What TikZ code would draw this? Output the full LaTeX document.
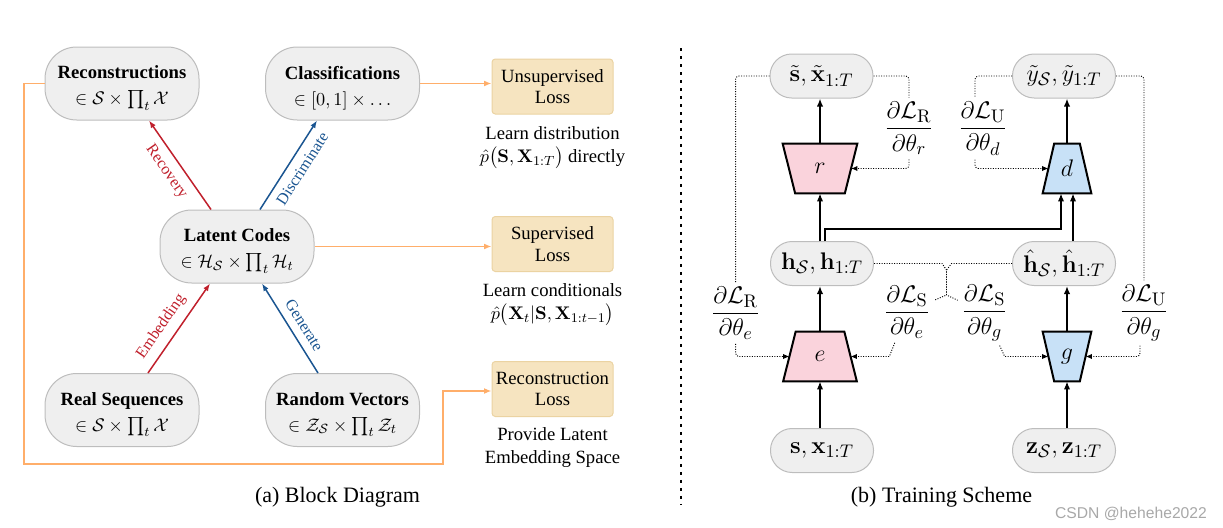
\documentclass[tikz,border=0pt]{standalone}
\usepackage{amsmath}
\usepackage[no-math]{fontspec}
\setmainfont{Liberation Serif}
\newfontfamily\wmfont{Liberation Sans}
\usetikzlibrary{arrows.meta,calc,backgrounds}
\definecolor{nodegray}{HTML}{EFEFEF}
\definecolor{nodeborder}{HTML}{BDBDBD}
\definecolor{lossfill}{HTML}{F6E4C0}
\definecolor{lossborder}{HTML}{EBD3A2}
\definecolor{redarr}{HTML}{C0202C}
\definecolor{bluearr}{HTML}{1A5591}
\definecolor{orangeline}{HTML}{FFAE6A}
\definecolor{pinkfill}{HTML}{FAD3DC}
\definecolor{bluefill}{HTML}{C8E1F7}
\definecolor{wmgray}{HTML}{A8A8A8}
\newcommand{\topstrut}{\rule{0pt}{13pt}}
\begin{document}
\begin{tikzpicture}[x=0.6pt,y=-0.6pt,
  lpill/.style={draw=nodeborder,fill=nodegray,line width=0.6pt,rounded corners=19pt,minimum width=92.4pt,minimum height=43.8pt,inner sep=0pt,align=center,font=\fontsize{11.2}{15.6}\selectfont},
  rpill/.style={draw=nodeborder,fill=nodegray,line width=0.6pt,rounded corners=13pt,minimum width=61.8pt,minimum height=26.4pt,inner sep=0pt,font=\fontsize{15}{18}\selectfont},
  lossbox/.style={draw=lossborder,fill=lossfill,line width=0.6pt,rounded corners=2pt,minimum width=72.6pt,minimum height=33pt,inner sep=0pt,align=center,font=\fontsize{11.2}{12.8}\selectfont},
  note/.style={align=center,inner sep=0pt,font=\fontsize{11.2}{14}\selectfont},
  trapbox/.style={inner sep=0pt,minimum height=29.4pt,font=\fontsize{15}{18}\selectfont},
  trapline/.style={draw=black,line width=1.2pt},
  fraclab/.style={inner sep=2.4pt,font=\fontsize{15}{18}\selectfont},
  redarrow/.style={draw=redarr,line width=0.9pt,-{Latex[length=4.5pt,width=3.4pt]}},
  bluearrow/.style={draw=bluearr,line width=0.9pt,-{Latex[length=4.5pt,width=3.4pt]}},
  arrlab/.style={sloped,font=\fontsize{9.6}{11}\selectfont,inner sep=1.5pt},
  orangearrow/.style={draw=orangeline,line width=1.1pt,-{Latex[length=4.5pt,width=3.6pt]}},
  solidarr/.style={draw=black,line width=1.2pt,-{Latex[length=4.8pt,width=3.8pt]}},
  dotline/.style={draw=black,line width=0.55pt,dash pattern=on 0.6pt off 0.9pt,rounded corners=2pt},
  dotarr/.style={dotline,-{Latex[length=3.8pt,width=3.2pt]}},
  caption/.style={inner sep=0pt,font=\fontsize{13.2}{15}\selectfont}
]
\useasboundingbox (0,0) rectangle (1223,528);

% ---------- left panel ----------
\node[lpill] (rec) at (122,83.5) {\topstrut\textbf{Reconstructions}\\$\in\mathcal S\times\prod_t\mathcal X$};
\node[lpill] (cls) at (342.5,83.5) {\topstrut\textbf{Classifications}\\$\in[0,1]\times\ldots$};
\node[lpill] (lat) at (237,246.5) {\topstrut\textbf{Latent Codes}\\$\in\mathcal H_{\mathcal S}\times\prod_t\mathcal H_t$};
\node[lpill] (real) at (122,410) {\topstrut\textbf{Real Sequences}\\$\in\mathcal S\times\prod_t\mathcal X$};
\node[lpill] (rand) at (342.5,410) {\topstrut\textbf{Random Vectors}\\$\in\mathcal Z_{\mathcal S}\times\prod_t\mathcal Z_t$};

\draw[redarrow] ($(lat.north)+(-26,0)$) -- node[arrlab,below=3pt,pos=0.52,text=redarr] {Recovery} ($(rec.south)+(27,0)$);
\draw[bluearrow] ($(lat.north)+(23,0)$) -- node[arrlab,below=3pt,pos=0.54,text=bluearr] {Discriminate} ($(cls.south)+(-25.5,0)$);
\draw[redarrow] ($(real.north)+(26,0)$) -- node[arrlab,above=3pt,pos=0.42,text=redarr] {Embedding} ($(lat.south)+(-27,0)$);
\draw[bluearrow] ($(rand.north)+(-24.5,0)$) -- node[arrlab,above=3pt,pos=0.45,text=bluearr] {Generate} ($(lat.south)+(25,0)$);

\node[lossbox] (uns) at (552.5,86.5) {Unsupervised\\Loss};
\node[lossbox] (sup) at (552.5,244) {Supervised\\Loss};
\node[lossbox] (recl) at (552.5,389) {Reconstruction\\Loss};

\node[note] (n1) at (552.5,147.5) {Learn distribution\\$\hat p\bigl(\mathbf S,\mathbf X_{1:T}\bigr)$ directly};
\node[note] (n2) at (552.5,304.5) {Learn conditionals\\$\hat p\bigl(\mathbf X_t|\mathbf S,\mathbf X_{1:t-1}\bigr)$};
\node[note] (n3) at (552.5,447.5) {Provide Latent\\Embedding Space};

\coordinate (oa) at (24,83.5);
\coordinate (ob) at (24,464);
\coordinate (oc) at (443,464);
\coordinate (od) at (443,391);
\draw[orangearrow] (cls.east) -- (cls.east -| uns.west);
\draw[orangearrow] (lat.east) -- (lat.east -| sup.west);
\draw[orangearrow] (rec.west) -- (oa) -- (ob) -- (oc) -- (od) -- (od -| recl.west);

\node[caption] (capa) at (337.5,497) {(a) Block Diagram};

% ---------- divider ----------
\draw[line width=1.2pt,dash pattern=on 1.8pt off 3pt] (681,48) -- (681,505);

% ---------- right panel ----------
\node[rpill] (st) at (821.5,76) {$\tilde{\mathbf s},\tilde{\mathbf x}_{1:T}$};
\node[rpill] (yt) at (1064,76) {$\tilde y_{\mathcal S},\tilde y_{1:T}$};
\node[rpill] (h) at (822,263.5) {$\mathbf h_{\mathcal S},\mathbf h_{1:T}$};
\node[rpill] (hh) at (1064,263.5) {$\hat{\mathbf h}_{\mathcal S},\hat{\mathbf h}_{1:T}$};
\node[rpill] (sx) at (822,450.5) {$\mathbf s,\mathbf x_{1:T}$};
\node[rpill] (z) at (1064,450.5) {$\mathbf z_{\mathcal S},\mathbf z_{1:T}$};

\node[trapbox,minimum width=44.4pt] (r) at (820,168.5) {$r$};
\node[trapbox,minimum width=28.8pt] (d) at (1067,168.5) {$d$};
\node[trapbox,minimum width=43.8pt] (e) at (820,356.5) {$e$};
\node[trapbox,minimum width=28.8pt] (g) at (1067,356.5) {$g$};
\begin{pgfonlayer}{background}
\filldraw[trapline,fill=pinkfill] (r.north west) -- (r.north east) -- ($(r.south east)+(-12.5,0)$) -- ($(r.south west)+(12.5,0)$) -- cycle;
\filldraw[trapline,fill=bluefill] ($(d.north west)+(11.5,0)$) -- ($(d.north east)+(-11.5,0)$) -- (d.south east) -- (d.south west) -- cycle;
\filldraw[trapline,fill=pinkfill] ($(e.north west)+(12.5,0)$) -- ($(e.north east)+(-12.5,0)$) -- (e.south east) -- (e.south west) -- cycle;
\filldraw[trapline,fill=bluefill] (g.north west) -- (g.north east) -- ($(g.south east)+(-11.5,0)$) -- ($(g.south west)+(11.5,0)$) -- cycle;
\end{pgfonlayer}

% solid arrows
\draw[solidarr] (e.south |- sx.north) -- (e.south);
\draw[solidarr] (e.north) -- (e.north |- h.south);
\draw[solidarr] (r.south |- h.north) -- (r.south);
\draw[solidarr] (r.north) -- (r.north |- st.south);
\draw[solidarr] (d.north) -- (d.north |- yt.south);
\draw[solidarr] (g.south |- z.north) -- (g.south);
\draw[solidarr] (g.north) -- (g.north |- hh.south);
\coordinate (dl) at ($(d.south)+(-6,0)$);
\coordinate (dr) at ($(d.south)+(6,0)$);
\coordinate (hup) at ($(h.north)+(3,0)$);
\draw[solidarr] (hup) -- ($(hup)+(0,-12)$) -| (dl);
\draw[solidarr] (dr |- hh.north) -- (dr);

% fractions
\node[fraclab] (frRr) at (909,128.5) {$\dfrac{\partial\mathcal L_{\mathrm R}}{\partial\theta_r}$};
\node[fraclab] (frUd) at (983,128.5) {$\dfrac{\partial\mathcal L_{\mathrm U}}{\partial\theta_d}$};
\node[fraclab] (frRe) at (735.6,313) {$\dfrac{\partial\mathcal L_{\mathrm R}}{\partial\theta_e}$};
\node[fraclab] (frSe) at (907,312) {$\dfrac{\partial\mathcal L_{\mathrm S}}{\partial\theta_e}$};
\node[fraclab] (frSg) at (984.6,313) {$\dfrac{\partial\mathcal L_{\mathrm S}}{\partial\theta_g}$};
\node[fraclab] (frUg) at (1144,313) {$\dfrac{\partial\mathcal L_{\mathrm U}}{\partial\theta_g}$};

% dotted gradient paths
\draw[dotline] (st.west) -| (frRe.north);
\draw[dotarr] (frRe.south) |- ($(e.west)+(6.25,0)$);
\draw[dotline] (st.east) -| (frRr.north);
\draw[dotarr] (frRr.south) |- ($(r.east)+(-6.25,0)$);
\draw[dotline] (yt.west) -| ($(frUd.north)+(-8,0)$);
\draw[dotarr] ($(frUd.south)+(-8,0)$) |- ($(d.west)+(5.75,0)$);
\draw[dotline] (yt.east) -| (frUg.north);
\draw[dotarr] ($(frUg.south)+(-4,0)$) |- ($(g.east)+(-5.75,0)$);

\coordinate (cxl) at (942,263.5);
\coordinate (cxr) at (951.5,263.5);
\coordinate (cxa) at (946.5,270);
\coordinate (cxb) at (946.5,295);
\draw[dotline,rounded corners=0pt] (h.east) -- (cxl) -- (cxa) -- (cxb) -- (frSg);
\draw[dotline,rounded corners=0pt] (hh.west) -- (cxr) -- (cxa) -- (cxb) -- (frSe);
\draw[dotarr,rounded corners=0pt] (frSe) -- ($(e.east)+(32.5,0)$) -- ($(e.east)+(-6.25,0)$);
\draw[dotarr,rounded corners=0pt] (frSg) -- ($(g.west)+(-38,0)$) -- ($(g.west)+(5.75,0)$);

\node[caption] (capb) at (941.5,497) {(b) Training Scheme};
\node[inner sep=0pt,text=wmgray,font=\wmfont\fontsize{9.4}{11}\selectfont] (wm) at (1131,514) {CSDN @hehehe2022};
\end{tikzpicture}
\end{document}
